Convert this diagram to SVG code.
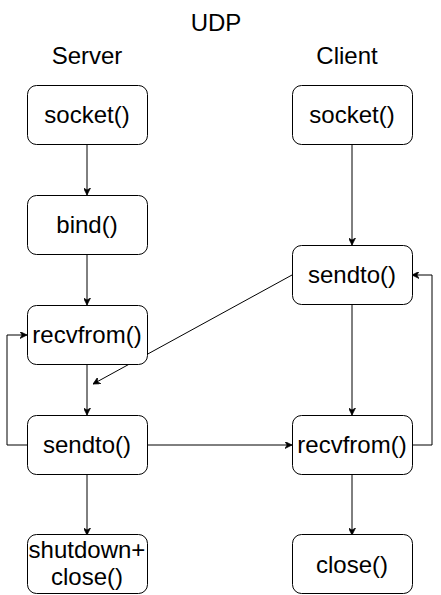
<svg xmlns="http://www.w3.org/2000/svg" width="441" height="595" viewBox="0 0 441 595">
<style>
.box{fill:#fff;stroke:#000;stroke-width:1}
.t{font-family:"Liberation Sans",Arial,sans-serif;font-size:24px;fill:#000;text-anchor:middle}
.c{fill:none;stroke:#000;stroke-width:1}
</style>
<defs>
<marker id="ah" viewBox="0 0 10 10" refX="10" refY="5" markerWidth="7" markerHeight="7" markerUnits="userSpaceOnUse" orient="auto">
<path d="M0,0 L10,5 L0,10 L3,5 Z" fill="#000" stroke="#000" stroke-width="1"/>
</marker>
</defs>
<rect width="441" height="595" fill="#fff"/>
<g id="labels">
<text class="t" x="216" y="31">UDP</text>
<text class="t" x="87" y="64">Server</text>
<text class="t" x="347" y="64">Client</text>
</g>
<g id="connectors">
<path class="c" d="M87,145 V195" marker-end="url(#ah)"/>
<path class="c" d="M87,255 V305" marker-end="url(#ah)"/>
<path class="c" d="M87,365 V415" marker-end="url(#ah)"/>
<path class="c" d="M87,475 V535" marker-end="url(#ah)"/>
<path class="c" d="M27,445 H7 V335 H27" marker-end="url(#ah)"/>
<path class="c" d="M147,445 H292" marker-end="url(#ah)"/>
<path class="c" d="M352,145 V245" marker-end="url(#ah)"/>
<path class="c" d="M352,305 V415" marker-end="url(#ah)"/>
<path class="c" d="M352,475 V535" marker-end="url(#ah)"/>
<path class="c" d="M412,445 H432 V275 H412" marker-end="url(#ah)"/>
<path class="c" d="M292,275 L93,384" marker-end="url(#ah)"/>
</g>
<g id="server-socket"><rect class="box" x="27.5" y="85.5" width="120" height="59" rx="9"/><text class="t" x="87" y="123">socket()</text></g>
<g id="server-bind"><rect class="box" x="27.5" y="195.5" width="120" height="59" rx="9"/><text class="t" x="87" y="233">bind()</text></g>
<g id="server-recvfrom"><rect class="box" x="27.5" y="305.5" width="120" height="59" rx="9"/><text class="t" x="87" y="343">recvfrom()</text></g>
<g id="server-sendto"><rect class="box" x="27.5" y="415.5" width="120" height="59" rx="9"/><text class="t" x="87" y="453">sendto()</text></g>
<g id="server-close"><rect class="box" x="27.5" y="534.5" width="120" height="59" rx="9"/><text class="t" x="87" y="558">shutdown+</text><text class="t" x="87" y="585">close()</text></g>
<g id="client-socket"><rect class="box" x="292.5" y="85.5" width="120" height="59" rx="9"/><text class="t" x="352" y="123">socket()</text></g>
<g id="client-sendto"><rect class="box" x="292.5" y="245.5" width="120" height="59" rx="9"/><text class="t" x="352" y="283">sendto()</text></g>
<g id="client-recvfrom"><rect class="box" x="292.5" y="415.5" width="120" height="59" rx="9"/><text class="t" x="352" y="453">recvfrom()</text></g>
<g id="client-close"><rect class="box" x="292.5" y="534.5" width="120" height="59" rx="9"/><text class="t" x="352" y="573">close()</text></g>
</svg>
